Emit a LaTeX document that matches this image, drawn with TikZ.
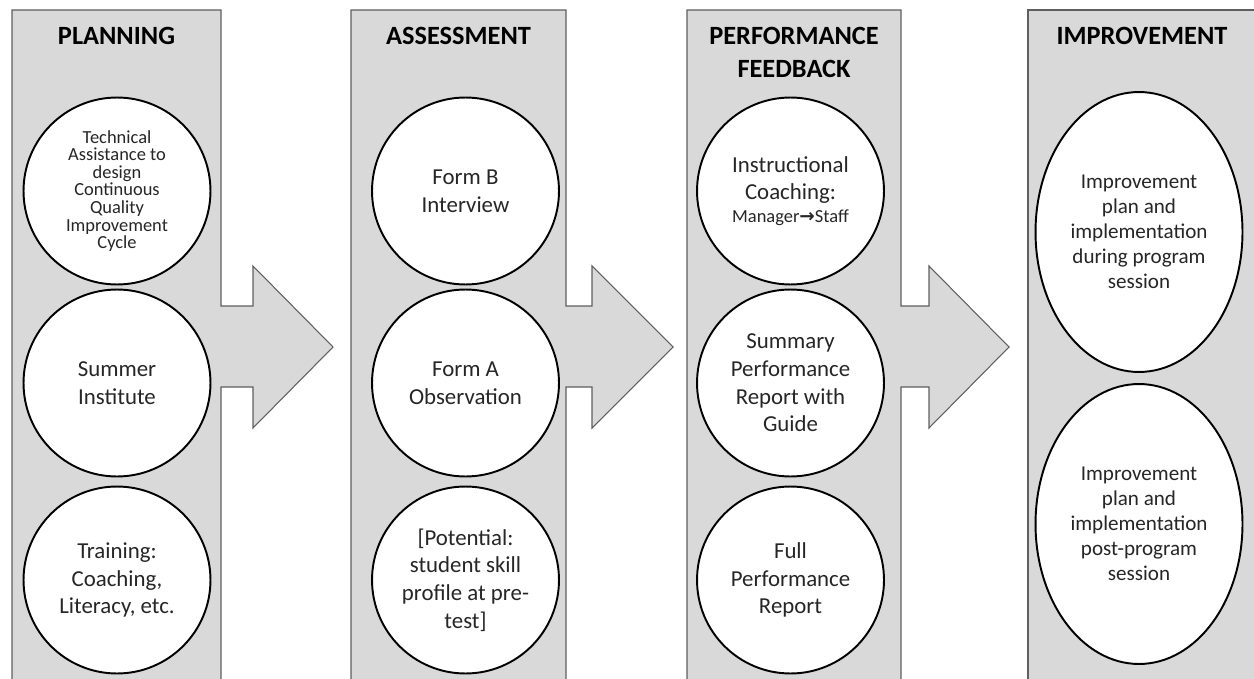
\documentclass[tikz,border=0pt]{standalone}
\usepackage{fontspec}
\setmainfont{Carlito}
\newfontfamily\dejavu{DejaVu Sans}
\usetikzlibrary{shapes.geometric}
\definecolor{panelfill}{HTML}{D9D9D9}
\definecolor{panelline}{HTML}{5F5F5F}
\definecolor{bodytext}{HTML}{262626}
\begin{document}
\begin{tikzpicture}[x=0.02cm,y=-0.02cm,
  panel/.style={fill=panelfill,draw=panelline,line width=0.6pt,line join=miter},
  title/.style={font=\fontsize{15}{18.5}\selectfont\bfseries,align=center,text=black,inner sep=0pt,anchor=north},
  stage/.style={circle,draw=black,fill=white,line width=1.1pt,minimum size=3.74cm,inner sep=0pt,align=center,text=bodytext,font=\fontsize{13}{15.8}\selectfont},
  oval/.style={ellipse,draw=black,fill=white,line width=1.1pt,minimum width=4.14cm,minimum height=5.6cm,inner sep=0pt,align=center,text=bodytext,font=\fontsize{12}{14.3}\selectfont}]
\useasboundingbox (0,0) rectangle (1254,679);
\clip (0,0) rectangle (1254,679);
% panels
\draw[panel] (12,10) -- (221,10) -- (221,306) -- (253,306) -- (253,266) -- (333,347) -- (253,428) -- (253,387) -- (221,387) -- (221,700) -- (12,700) -- cycle;
\draw[panel] (351,10) -- (566,10) -- (566,306) -- (592,306) -- (592,266) -- (673,347) -- (592,428) -- (592,387) -- (566,387) -- (566,700) -- (351,700) -- cycle;
\draw[panel] (687,10) -- (901,10) -- (901,306) -- (929,306) -- (929,266) -- (1009,347) -- (929,428) -- (929,387) -- (901,387) -- (901,700) -- (687,700) -- cycle;
\draw[panel] (1028,10) -- (1270,10) -- (1270,700) -- (1028,700) -- cycle;
% titles
\node[title] (t1) at (116.5,27) {PLANNING};
\node[title] (t2) at (458.5,27) {ASSESSMENT};
\node[title] (t3) at (794,27) {PERFORMANCE\\FEEDBACK};
\node[title] (t4) at (1142,27) {IMPROVEMENT};
% planning
\node[stage,font=\fontsize{10.5}{10}\selectfont] (p1) at (117,191) {Technical\\Assistance to\\design\\Continuous\\Quality\\Improvement\\Cycle};
\node[stage] (p2) at (117,383) {Summer\\Institute};
\node[stage] (p3) at (117,580) {Training:\\Coaching,\\Literacy, etc.};
% assessment
\node[stage] (a1) at (465.5,191) {Form B\\Interview};
\node[stage] (a2) at (465.5,383) {Form A\\Observation};
\node[stage] (a3) at (465.5,580) {[Potential:\\student skill\\profile at pre-\\test]};
% performance feedback
\node[stage] (f1) at (790.5,191) {Instructional\\Coaching:\\[-3pt]{\fontsize{10.5}{12}\selectfont Manager{\dejavu\bfseries →}Staff}};
\node[stage] (f2) at (790.5,383) {Summary\\Performance\\Report with\\Guide};
\node[stage] (f3) at (790.5,580) {Full\\Performance\\Report};
% improvement
\node[oval] (i1) at (1139,232) {Improvement\\plan and\\implementation\\during program\\session};
\node[oval] (i2) at (1139,524) {Improvement\\plan and\\implementation\\post-program\\session};
\end{tikzpicture}
\end{document}
